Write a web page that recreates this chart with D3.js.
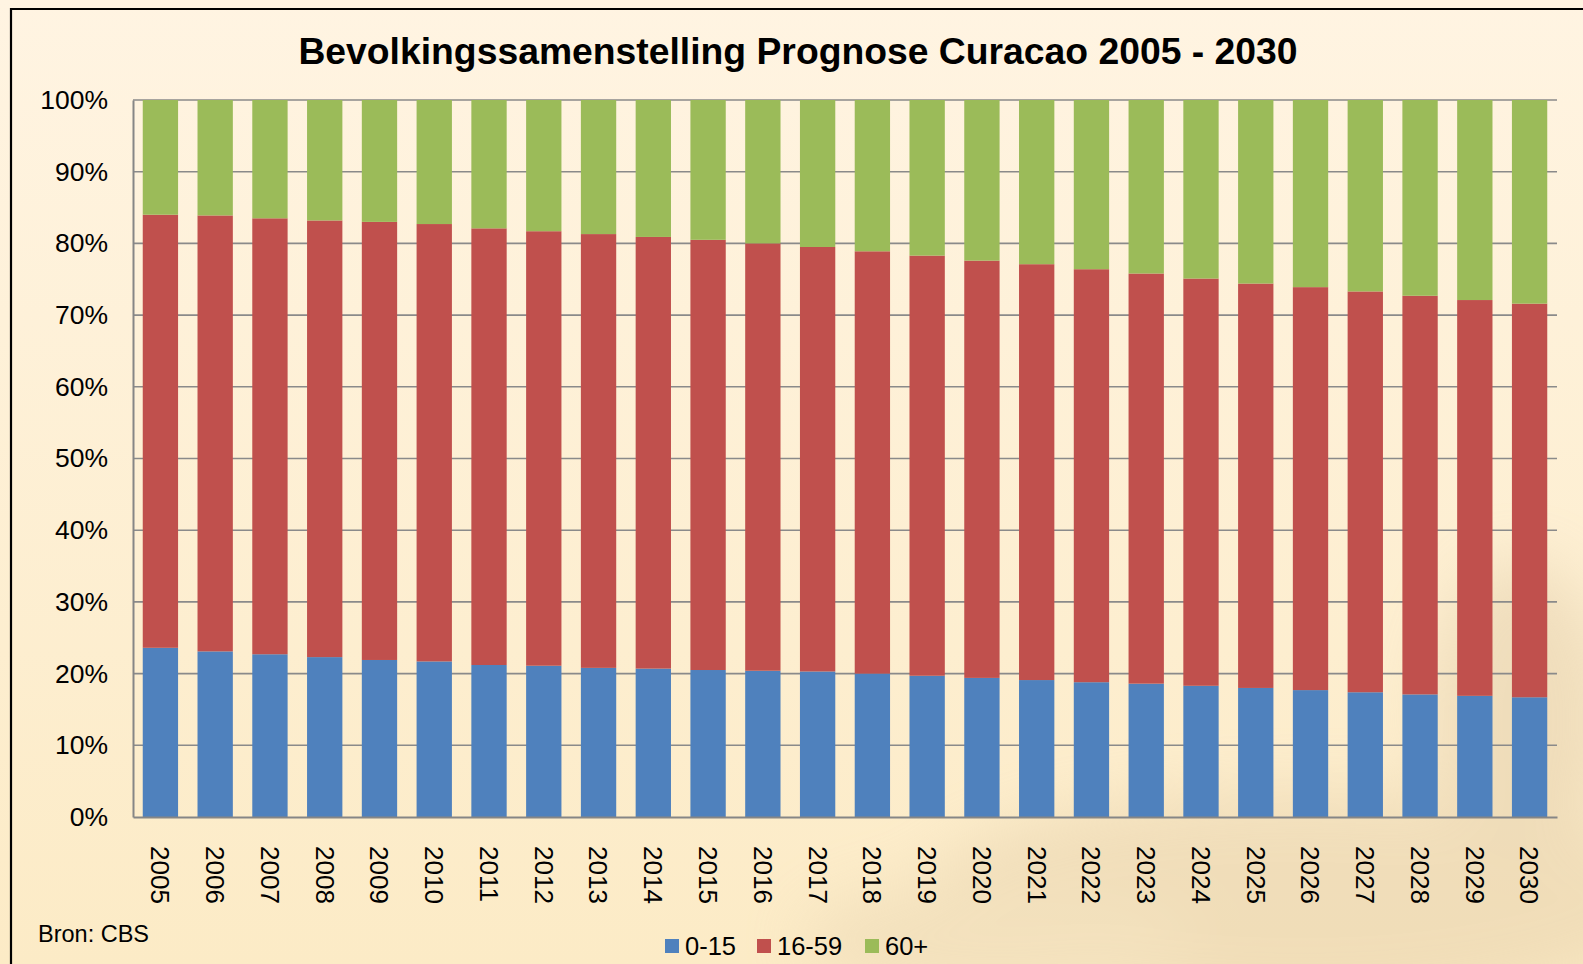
<!DOCTYPE html>
<html>
<head>
<meta charset="utf-8" />
<script src="https://d3js.org/d3.v7.min.js"></script>
<title>Bevolkingssamenstelling Prognose Curacao 2005 - 2030</title>
<style>
  body { margin: 0; overflow: hidden; }
  svg { display: block; font-family: "Liberation Sans", Arial, sans-serif; }
</style>
</head>
<body>
<svg id="chart"></svg>
<script>
// data (percent of population)
var years = ["2005","2006","2007","2008","2009","2010","2011","2012","2013","2014","2015","2016","2017",
             "2018","2019","2020","2021","2022","2023","2024","2025","2026","2027","2028","2029","2030"];
var young = [23.6,23.1,22.7,22.3,21.9,21.7,21.2,21.1,20.8,20.7,20.5,20.4,20.3,
             20.0,19.7,19.4,19.1,18.8,18.6,18.3,18.0,17.7,17.4,17.1,16.9,16.7];
// cumulative top of the 16-59 segment
var workTop = [84.0,83.9,83.5,83.2,83.0,82.7,82.1,81.7,81.3,80.9,80.5,80.0,79.5,
               78.9,78.3,77.6,77.1,76.4,75.8,75.1,74.4,73.9,73.3,72.7,72.1,71.6];
var seriesNames = ["0-15","16-59","60+"];
var colors = ["#4F81BD","#C0504D","#9BBB59"];
var yTicks = [0,10,20,30,40,50,60,70,80,90,100];

var width = 1583, height = 964;
var margin = {top: 100, right: 26, bottom: 147, left: 133};

var rows = years.map(function(y, i) {
  return {year: y, "0-15": young[i], "16-59": workTop[i] - young[i], "60+": 100 - workTop[i]};
});

var svg = d3.select("#chart").attr("width", width).attr("height", height);

// background
var defs = svg.append("defs");
var bg = defs.append("linearGradient").attr("id", "bg").attr("x1", 0).attr("y1", 0).attr("x2", 0).attr("y2", 1);
bg.append("stop").attr("offset", "0%").attr("stop-color", "#fff4e2");
bg.append("stop").attr("offset", "100%").attr("stop-color", "#fcebc6");
var blur = defs.append("filter").attr("id", "blur").attr("x", "-50%").attr("y", "-50%").attr("width", "200%").attr("height", "200%");
blur.append("feGaussianBlur").attr("stdDeviation", 30);

svg.append("rect").attr("width", width).attr("height", height).attr("fill", "url(#bg)");

// faint photo-like haze bottom right
var haze = svg.append("g").attr("filter", "url(#blur)").attr("opacity", 0.35);
haze.append("ellipse").attr("cx", 1300).attr("cy", 900).attr("rx", 380).attr("ry", 110).attr("fill", "#dcc49e");
haze.append("ellipse").attr("cx", 1520).attr("cy", 720).attr("rx", 90).attr("ry", 160).attr("fill", "#d8c09a");
haze.append("ellipse").attr("cx", 1000).attr("cy", 940).attr("rx", 200).attr("ry", 60).attr("fill", "#e3cfac");

// frame
svg.append("path").attr("d", "M11," + height + "V9H" + width)
  .attr("fill", "none").attr("stroke", "#000").attr("stroke-width", 2.2);

var x = d3.scaleBand().domain(years)
  .range([margin.left, width - margin.right])
  .paddingInner(0.355).paddingOuter(0.178);
var y = d3.scaleLinear().domain([0, 100]).range([height - margin.bottom, margin.top]);

// gridlines
svg.append("g").selectAll("line").data(yTicks.slice(1)).join("line")
  .attr("x1", margin.left).attr("x2", width - margin.right)
  .attr("y1", function(d) { return y(d); }).attr("y2", function(d) { return y(d); })
  .attr("stroke", "#8a8a8a").attr("stroke-width", 1.6);

// stacked bars
var stack = d3.stack().keys(seriesNames)(rows);
svg.append("g").selectAll("g").data(stack).join("g")
  .attr("fill", function(d, i) { return colors[i]; })
  .selectAll("rect").data(function(d) { return d; }).join("rect")
  .attr("x", function(d) { return x(d.data.year); })
  .attr("width", x.bandwidth())
  .attr("y", function(d) { return y(d[1]); })
  .attr("height", function(d) { return y(d[0]) - y(d[1]); });

// axes
var yAxis = svg.append("g").attr("transform", "translate(" + margin.left + ",0)")
  .call(d3.axisLeft(y).tickValues(yTicks).tickSize(0).tickPadding(25)
    .tickFormat(function(d) { return d + "%"; }));
yAxis.select(".domain").attr("stroke", "#868686").attr("stroke-width", 2);
yAxis.selectAll("text").attr("font-size", 26.5).attr("fill", "#000").attr("font-family", "Liberation Sans, Arial, sans-serif");

var xAxis = svg.append("g").attr("transform", "translate(0," + (height - margin.bottom) + ")")
  .call(d3.axisBottom(x).tickSize(0).tickSizeOuter(0));
xAxis.select(".domain").attr("stroke", "#868686").attr("stroke-width", 2);
xAxis.selectAll("text")
  .attr("font-size", 26).attr("fill", "#000").attr("font-family", "Liberation Sans, Arial, sans-serif")
  .attr("text-anchor", "start").attr("dy", "0.35em").attr("y", 0)
  .attr("transform", "translate(0,29) rotate(90)");

// title
svg.append("text").attr("x", 798).attr("y", 64).attr("text-anchor", "middle")
  .attr("font-size", 37.3).attr("font-weight", "bold").attr("fill", "#000")
  .text("Bevolkingssamenstelling Prognose Curacao 2005 - 2030");

// source
svg.append("text").attr("x", 38).attr("y", 942).attr("font-size", 23.5).attr("fill", "#000").text("Bron: CBS");

// legend
var legendX = [665, 757, 865];
var legend = svg.append("g").selectAll("g").data(seriesNames).join("g")
  .attr("transform", function(d, i) { return "translate(" + legendX[i] + ",939)"; });
legend.append("rect").attr("width", 14).attr("height", 14).attr("fill", function(d, i) { return colors[i]; });
legend.append("text").attr("x", 20).attr("y", 7).attr("dy", "0.36em")
  .attr("font-size", 25.5).attr("fill", "#000").text(function(d) { return d; });
</script>
</body>
</html>
